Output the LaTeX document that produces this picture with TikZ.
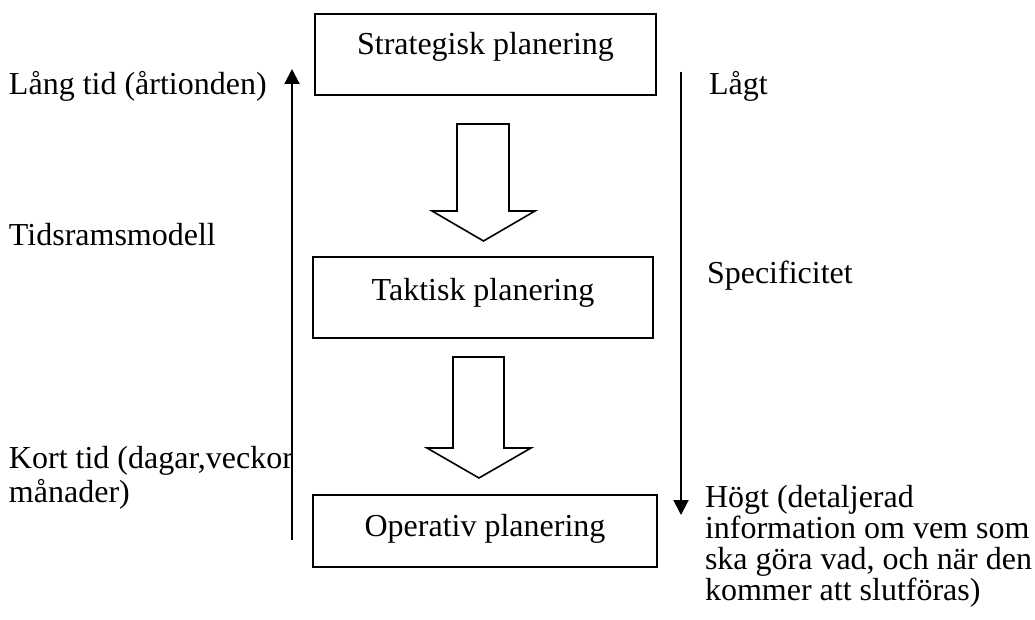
\documentclass[tikz,border=0pt]{standalone}
\usepackage{fontspec}
\setmainfont{Liberation Serif}
\usetikzlibrary{arrows.meta}
\begin{document}
\begin{tikzpicture}[x=1pt,y=-1pt,
  every node/.style={inner sep=0pt,outer sep=0pt,font=\fontsize{32}{36}\selectfont},
  box/.style={draw,line width=2pt,rectangle},
  lbl/.style={anchor=base west},
  ctr/.style={anchor=base},
  axis/.style={line width=2pt,-{Triangle[width=15pt,length=15pt]}},
  blockarrow/.style={draw,line width=1.6pt,fill=white,line join=miter}]
\useasboundingbox (0,0) rectangle (1035,620);
% boxes
\node[box,minimum width=341pt,minimum height=81pt] (s) at (485.5,54.5) {};
\node[ctr] (st) at ([yshift=-41pt]s.north) {Strategisk planering};
\node[box,minimum width=340pt,minimum height=81pt] (t) at (483,297.5) {};
\node[ctr] (tt) at ([yshift=-43pt]t.north) {Taktisk planering};
\node[box,minimum width=344pt,minimum height=72pt] (o) at (485,531) {};
\node[ctr] (ot) at ([yshift=-41pt]o.north) {Operativ planering};
% block arrows
\draw[blockarrow] (457,124) -- (509,124) -- (509,211) -- (535,211) -- (483.5,241) -- (432,211) -- (457,211) -- cycle;
\draw[blockarrow] (453,357) -- (504,357) -- (504,448) -- (531,448) -- (479,478) -- (427,448) -- (453,448) -- cycle;
% axes
\coordinate (lb) at (292,540);
\coordinate (lt) at (292,69);
\draw[axis] (lb) -- (lt);
\coordinate (rt) at (681,72);
\coordinate (rb) at (681,515);
\draw[axis] (rt) -- (rb);
% left labels
\node[lbl] (lang) at (9,95) {Lång tid (årtionden)};
\node[lbl] (tids) at (9,245) {Tidsramsmodell};
\node[lbl] (kort1) at (9,468) {Kort tid (dagar,veckor};
\node[lbl] (kort2) at (9,502) {månader)};
% right labels
\node[lbl] (lagt) at (709,95) {Lågt};
\node[lbl] (spec) at (707,283) {Specificitet};
\node[lbl] (hog1) at (705,507) {Högt (detaljerad};
\node[lbl] (hog2) at (705,538) {information om vem som};
\node[lbl] (hog3) at (705,569) {ska göra vad, och när den};
\node[lbl] (hog4) at (705,600) {kommer att slutföras)};
\end{tikzpicture}
\end{document}
